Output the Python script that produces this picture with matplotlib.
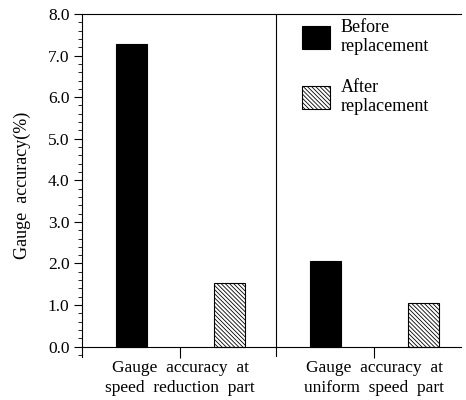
import matplotlib.pyplot as plt
from matplotlib.ticker import MultipleLocator

plt.rcParams['font.family'] = ['Liberation Serif', 'DejaVu Serif']
plt.rcParams['hatch.linewidth'] = 0.6

# data
categories = ["Gauge  accuracy  at\nspeed  reduction  part",
              "Gauge  accuracy  at\nuniform  speed  part"]
before = [7.28, 2.05]
after = [1.52, 1.05]
series_labels = ["Before\nreplacement", "After\nreplacement"]

x = [0, 1]
off = 0.252
w = 0.16

fig = plt.figure(figsize=(4.66, 4.0), dpi=100)
ax = fig.add_axes([0.176, 0.1075, 0.814, 0.8575])

b1 = ax.bar([i - off for i in x], before, w, color='black', edgecolor='black',
            linewidth=0.8, label=series_labels[0])
b2 = ax.bar([i + off for i in x], after, w, color='white', edgecolor='black',
            hatch='\\\\\\\\\\\\\\\\', linewidth=0.8, label=series_labels[1])

ax.set_xlim(-0.505, 1.448)
ax.set_ylim(-0.25, 8.0)

ax.spines['bottom'].set_position(('data', 0))
ax.spines['right'].set_visible(False)
for s in ['left', 'bottom', 'top']:
    ax.spines[s].set_linewidth(0.8)

# divider between the two groups
ax.axvline(0.495, color='black', linewidth=0.8)

ax.set_yticks([0, 1, 2, 3, 4, 5, 6, 7, 8])
ax.set_yticklabels(["%.1f" % v for v in range(9)], fontsize=12.5)
ax.yaxis.set_minor_locator(MultipleLocator(0.2))
ax.tick_params(axis='y', which='major', direction='out', length=6, width=0.8, pad=3)
ax.tick_params(axis='y', which='minor', direction='out', length=3, width=0.6)

ax.set_xticks(x)
ax.set_xticklabels(categories, fontsize=12.5, linespacing=1.3)
ax.tick_params(axis='x', direction='out', length=8, width=0.8, pad=2)

ax.set_ylabel("Gauge  accuracy(%)", fontsize=13, labelpad=12)

ax.legend(handles=[b1, b2], loc='upper left', bbox_to_anchor=(0.62, 0.985),
          bbox_transform=fig.transFigure, frameon=False, fontsize=13,
          handlelength=1.55, handleheight=1.55, handletextpad=0.6,
          labelspacing=1.3, borderpad=0.2)

plt.savefig("out.png", dpi=100)
